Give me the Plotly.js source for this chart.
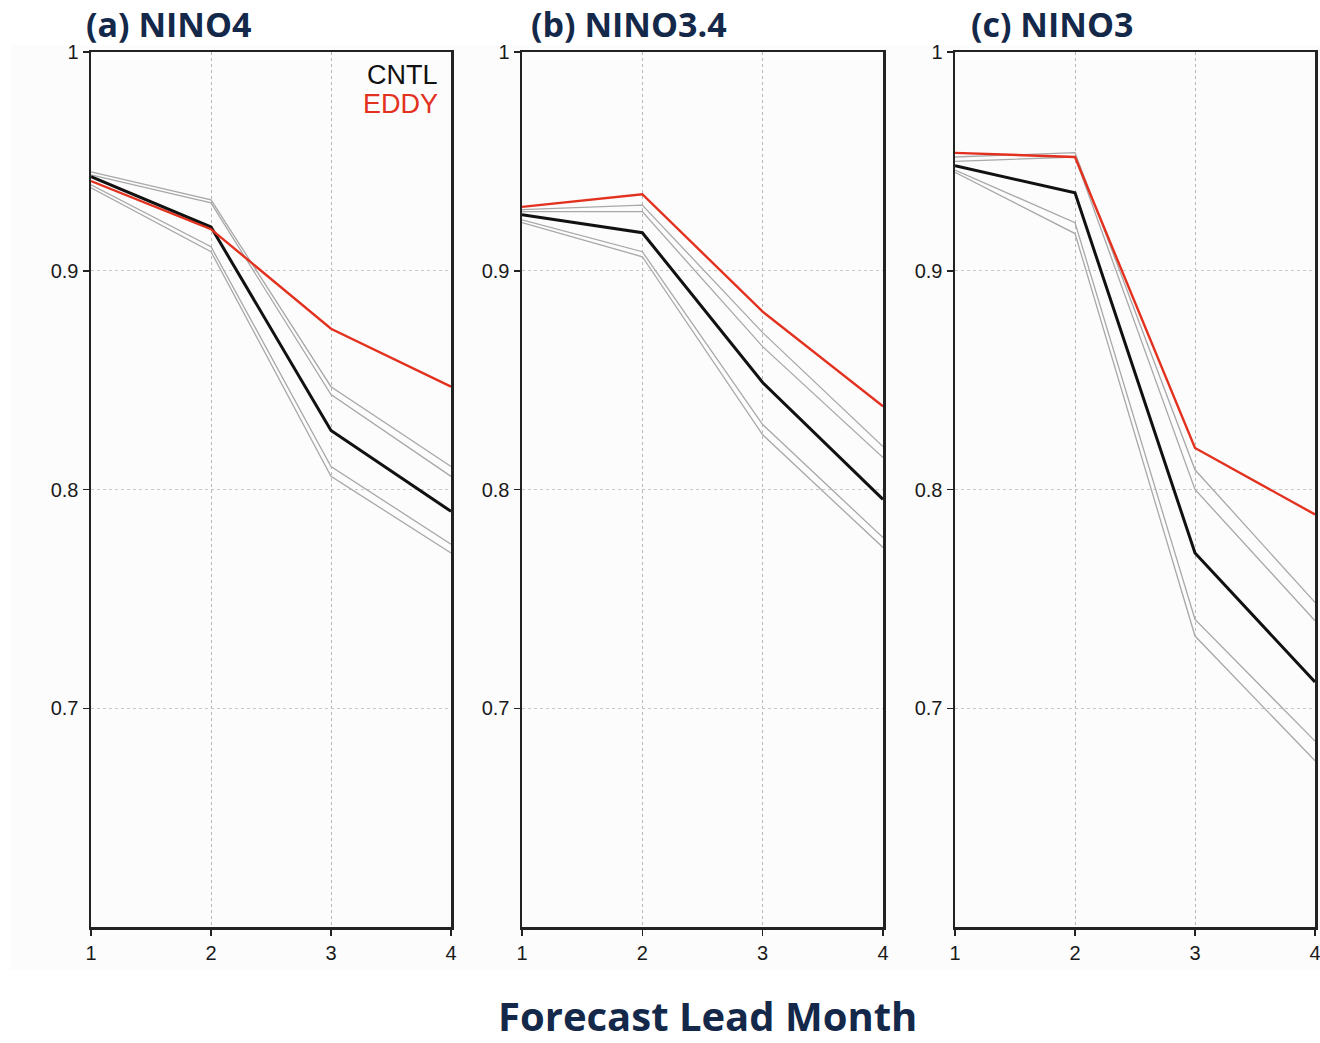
<!DOCTYPE html>
<html>
<head>
<meta charset="utf-8">
<script src="https://cdn.plot.ly/plotly-3.0.1.min.js"></script>
<style>html,body{margin:0;padding:0;background:#fff;}#chart{width:1320px;height:1043px;}</style>
</head>
<body>
<div id="chart"></div>
<script>
// ---- data ----
const leadMonths = [1, 2, 3, 4];
const xTickLabels = ['1', '2', '3', '4'];
const yTickValues = [0.7, 0.8, 0.9, 1];
const yTickLabels = ['0.7', '0.8', '0.9', '1'];
const panelTitles = ['(a) NINO4', '(b) NINO3.4', '(c) NINO3'];
const seriesNames = ['CNTL', 'EDDY'];

// NINO4
const nino4_cntl = [0.943, 0.920, 0.827, 0.790];
const nino4_eddy = [0.941, 0.919, 0.8735, 0.847];
const nino4_member1 = [0.9452, 0.9324, 0.847, 0.8105];
const nino4_member2 = [0.9438, 0.9310, 0.8434, 0.806];
const nino4_member3 = [0.9393, 0.9110, 0.8105, 0.775];
const nino4_member4 = [0.9379, 0.9087, 0.806, 0.771];

// NINO3.4
const nino34_cntl = [0.9256, 0.9174, 0.8489, 0.7955];
const nino34_eddy = [0.9292, 0.935, 0.8813, 0.838];
const nino34_member1 = [0.9279, 0.930, 0.8717, 0.8196];
const nino34_member2 = [0.927, 0.927, 0.8653, 0.8146];
const nino34_member3 = [0.9233, 0.9087, 0.8297, 0.778];
const nino34_member4 = [0.922, 0.9064, 0.825, 0.7735];

// NINO3
const nino3_cntl = [0.948, 0.9356, 0.771, 0.712];
const nino3_eddy = [0.9539, 0.952, 0.819, 0.7886];
const nino3_member1 = [0.952, 0.954, 0.809, 0.7484];
const nino3_member2 = [0.950, 0.952, 0.800, 0.740];
const nino3_member3 = [0.946, 0.922, 0.7406, 0.685];
const nino3_member4 = [0.945, 0.917, 0.733, 0.676];

const panels = [
  {cntl: nino4_cntl, eddy: nino4_eddy, members: [nino4_member1, nino4_member2, nino4_member3, nino4_member4]},
  {cntl: nino34_cntl, eddy: nino34_eddy, members: [nino34_member1, nino34_member2, nino34_member3, nino34_member4]},
  {cntl: nino3_cntl, eddy: nino3_eddy, members: [nino3_member1, nino3_member2, nino3_member3, nino3_member4]}
];

// ---- layout geometry ----
const W = 1320, H = 1043;
const xPix = [[91, 451], [522, 883], [955, 1315]];
const yTop = 52, yBot = 927;
const titleX = [84, 529, 969];

const traces = [];
panels.forEach((p, i) => {
  const xa = i === 0 ? 'x' : 'x' + (i + 1);
  const ya = i === 0 ? 'y' : 'y' + (i + 1);
  p.members.forEach(m => {
    traces.push({x: leadMonths, y: m, xaxis: xa, yaxis: ya, type: 'scatter', mode: 'lines',
      line: {color: '#a8a8a8', width: 1.3}, showlegend: false, hoverinfo: 'skip'});
  });
  traces.push({x: leadMonths, y: p.cntl, xaxis: xa, yaxis: ya, type: 'scatter', mode: 'lines',
    name: seriesNames[0], line: {color: '#111111', width: 3}, showlegend: false});
  traces.push({x: leadMonths, y: p.eddy, xaxis: xa, yaxis: ya, type: 'scatter', mode: 'lines',
    name: seriesNames[1], line: {color: '#e3311f', width: 2.4}, showlegend: false});
});

const layout = {
  width: W, height: H,
  margin: {l: 0, r: 0, t: 0, b: 0},
  paper_bgcolor: '#ffffff',
  plot_bgcolor: 'rgba(0,0,0,0)',
  showlegend: false,
  shapes: [{type: 'rect', xref: 'paper', yref: 'paper', x0: 10 / W, x1: 1, y0: 1 - 970 / H, y1: 1 - 45 / H,
    fillcolor: '#fcfcfc', line: {width: 0}, layer: 'below'}],
  annotations: []
};

const tickFont = {family: 'Liberation Sans, Arial', size: 20, color: '#1a1a1a'};

panels.forEach((p, i) => {
  const sfx = i === 0 ? '' : String(i + 1);
  layout['xaxis' + sfx] = {
    domain: [xPix[i][0] / W, xPix[i][1] / W],
    anchor: 'y' + sfx,
    range: [1, 4],
    tickvals: leadMonths, ticktext: xTickLabels,
    ticks: 'outside', ticklen: 6, tickwidth: 1.5, tickcolor: '#222',
    showline: true, mirror: true, linecolor: '#222', linewidth: 2.5,
    showgrid: true, gridcolor: '#b8b8b8', griddash: 'dot', gridwidth: 1,
    zeroline: false,
    tickfont: tickFont,
    ticklabeloverflow: 'allow',
    automargin: false,
    fixedrange: true
  };
  layout['yaxis' + sfx] = {
    domain: [1 - yBot / H, 1 - yTop / H],
    anchor: 'x' + sfx,
    range: [0.6, 1],
    tickvals: yTickValues, ticktext: yTickLabels,
    ticks: 'outside', ticklen: 6, tickwidth: 1.5, tickcolor: '#222',
    showline: true, mirror: true, linecolor: '#222', linewidth: 2.5,
    showgrid: true, gridcolor: '#c8c8c8', griddash: 'dot', gridwidth: 1,
    zeroline: false,
    tickfont: tickFont,
    ticklabeloverflow: 'allow',
    automargin: false,
    fixedrange: true
  };
  layout.annotations.push({
    text: '<b>' + panelTitles[i] + '</b>', xref: 'paper', yref: 'paper',
    x: titleX[i] / W, y: 1 - 24 / H, xanchor: 'left', yanchor: 'middle', showarrow: false,
    font: {family: 'Open Sans, Noto Sans, sans-serif', size: 34, color: '#14284a'}
  });
});

// legend text inside panel (a)
layout.annotations.push({
  text: seriesNames[0], xref: 'paper', yref: 'paper', x: 440 / W, y: 1 - 75 / H,
  xanchor: 'right', yanchor: 'middle', showarrow: false,
  font: {family: 'Liberation Sans, Arial', size: 27, color: '#111111'}
});
layout.annotations.push({
  text: seriesNames[1], xref: 'paper', yref: 'paper', x: 440 / W, y: 1 - 104 / H,
  xanchor: 'right', yanchor: 'middle', showarrow: false,
  font: {family: 'Liberation Sans, Arial', size: 27, color: '#e3311f'}
});
// common x title
layout.annotations.push({
  text: '<b>Forecast Lead Month</b>', xref: 'paper', yref: 'paper', x: 707 / W, y: 1 - 1015 / H,
  xanchor: 'center', yanchor: 'middle', showarrow: false,
  font: {family: 'Open Sans, Noto Sans, sans-serif', size: 40, color: '#14284a'}
});

Plotly.newPlot('chart', traces, layout, {displayModeBar: false, staticPlot: true});
</script>
</body>
</html>
